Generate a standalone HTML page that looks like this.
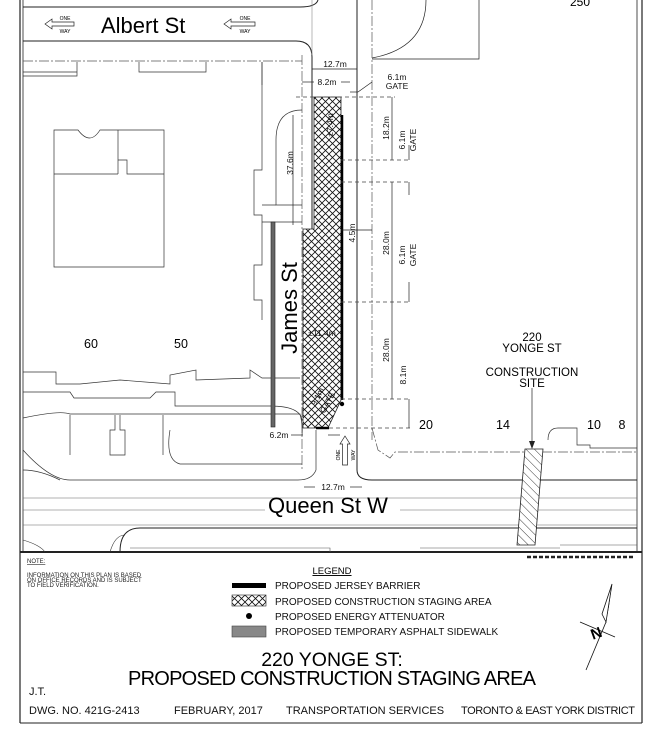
<!DOCTYPE html>
<html><head><meta charset="utf-8"><style>
html,body{margin:0;padding:0;background:#fff;}
svg{display:block;font-family:"Liberation Sans",Arial,sans-serif;}
</style></head><body>
<svg width="661" height="729" viewBox="0 0 661 729" xmlns="http://www.w3.org/2000/svg">
<defs>
<pattern id="xh" width="7" height="7" patternUnits="userSpaceOnUse">
<rect width="7" height="7" fill="#fff"/>
<path d="M0 0L7 7M7 0L0 7" stroke="#111" stroke-width="0.8"/>
</pattern>
<pattern id="dh" width="6" height="6" patternUnits="userSpaceOnUse" patternTransform="rotate(-45)">
<rect width="6" height="6" fill="#fff"/>
<line x1="0" y1="0" x2="0" y2="6" stroke="#222" stroke-width="0.9"/>
</pattern>
</defs>
<rect width="661" height="729" fill="#fff"/>
<!-- frame -->
<g stroke="#222" fill="none">
<line x1="20" y1="0" x2="20" y2="723" stroke-width="1.2"/>
<line x1="23" y1="0" x2="23" y2="552" stroke-width="0.8"/>
<line x1="637" y1="0" x2="637" y2="552" stroke-width="0.8"/>
<line x1="642" y1="0" x2="642" y2="723" stroke-width="1.2"/>
<line x1="20" y1="723" x2="642" y2="723" stroke-width="1"/>
<line x1="20" y1="552" x2="642" y2="552" stroke-width="2"/>
</g>
<!-- Albert St -->
<g stroke="#222" fill="none" stroke-width="1">
<path d="M23 7 H300 Q316 7 318 0"/>
<path d="M23 41 H296 Q312 41 312 57 V230"/>
<line x1="357" y1="0" x2="357" y2="470"/>
<path d="M357 470 Q357 480 372 480 H637"/>
<path d="M312 55 V0" stroke="#888" stroke-width="0.6"/>
<path d="M426 0 Q426 48 372 58" stroke-width="0.7"/>
<path d="M479 0 V59 H372" stroke-width="0.7"/>
<line x1="372" y1="0" x2="372" y2="440" stroke="#555" stroke-dasharray="10 2 2 2" stroke-width="0.7"/>
<line x1="302" y1="55" x2="302" y2="470" stroke="#555" stroke-dasharray="10 2 2 2" stroke-width="0.7"/>
<line x1="23" y1="61" x2="302" y2="61" stroke="#555" stroke-dasharray="10 2 2 2" stroke-width="0.7"/>
</g>
<text x="580" y="6" font-size="12" text-anchor="middle">250</text>
<!-- one way arrows -->
<g font-size="5" text-anchor="middle">
<path d="M45 24 L52 19 V22 H74 V26 H52 V29 Z" fill="#fff" stroke="#222" stroke-width="0.7"/>
<text x="65" y="20">ONE</text><text x="65" y="33">WAY</text>
<path d="M224 24 L231 19 V22 H255 V26 H231 V29 Z" fill="#fff" stroke="#222" stroke-width="0.7"/>
<text x="245" y="20">ONE</text><text x="245" y="33">WAY</text>
</g>
<text x="101" y="33" font-size="22">Albert St</text>
<!-- buildings west -->
<g stroke="#333" fill="none" stroke-width="0.7">
<path d="M23 76 H77 V62 M77 76 V62 M139 62 V72 H206 V62 M262 62 V85 M23 72 H77"/>
<path d="M262 62 V170 H254 V215 H262 V265 H254 V300 H262 V320"/>
<path d="M54 130 H78 Q90 146 100 130 H164 V267 H54 Z"/>
<path d="M118 130 V174 M164 174 H127 V160 H118 V174 M54 174 H118"/>
<path d="M302 110 Q276 110 276 140 V205 H302"/>
<path d="M262 205 H276 M262 222 H302"/>
<path d="M23 372 H56 V384 H80 L120 380 L170 384 V375 L196 370 V380 L250 378 V370 L262 378 H300"/>
<path d="M23 392 H70 L74 398 L150 398 L156 392 H175 V406 H270 Q300 406 302 420"/>
<path d="M23 418 Q60 410 70 414 H300 Q303 425 302 435"/>
<path d="M70 415 V455 M163 415 V455 M115 415 V430 H110 V455 H125 V430 H120 V415"/>
<path d="M23 450 Q50 480 70 480 H298 Q312 480 316 470 V430"/>
<path d="M170 430 Q165 460 180 464 H302"/>
<path d="M23 470 Q40 470 60 480" />
</g>
<!-- east side -->
<g stroke="#333" fill="none" stroke-width="0.7">
<path d="M372 428 L378 450 L390 458 L395 452 H637" stroke-dasharray="10 2 2 2" stroke="#555"/>
<path d="M548 440 Q548 428 558 428 H577 V445 H590 V448 H637"/>
</g>
<!-- grey sidewalk -->
<rect x="271" y="222" width="4" height="205" fill="#666" stroke="#222" stroke-width="0.6"/>
<!-- staging area -->
<path d="M314 97 H341 V400 L328 428 H303 V229 H314 Z" fill="url(#xh)" stroke="#222" stroke-width="0.8"/>
<line x1="342" y1="115" x2="342" y2="400" stroke="#000" stroke-width="2.5"/>
<line x1="316" y1="428" x2="329" y2="428" stroke="#000" stroke-width="2.5"/>
<circle cx="342" cy="404" r="2.2" fill="#000"/>
<!-- dashed dim lines -->
<g stroke="#444" stroke-dasharray="4 3" stroke-width="0.7">
<line x1="296" y1="97" x2="395" y2="97"/>
<line x1="341" y1="160" x2="410" y2="160"/>
<line x1="341" y1="182" x2="410" y2="182"/>
<line x1="341" y1="302" x2="410" y2="302"/>
<line x1="341" y1="399" x2="410" y2="399"/>
<line x1="329" y1="428" x2="410" y2="428"/>
</g>
<g stroke="#222" stroke-width="0.7" fill="#222">
<line x1="392" y1="97" x2="392" y2="160"/>
<line x1="392" y1="182" x2="392" y2="302"/>
<line x1="392" y1="302" x2="392" y2="399"/>
<line x1="409" y1="145" x2="409" y2="160"/>
<line x1="409" y1="182" x2="409" y2="195"/>
<line x1="409" y1="282" x2="409" y2="302"/>
<line x1="409" y1="399" x2="409" y2="428"/>
<line x1="312" y1="69" x2="357" y2="69"/>
<line x1="302" y1="82" x2="314" y2="82"/>
<line x1="341" y1="82" x2="350" y2="82"/>
<line x1="350" y1="92" x2="358" y2="92"/>
<path d="M358 92 L372 82" fill="none"/>
<line x1="293" y1="115" x2="293" y2="225"/>
<line x1="341" y1="230" x2="372" y2="230"/>
<line x1="291" y1="435" x2="303" y2="435"/>
<line x1="328" y1="435" x2="340" y2="435"/>
<line x1="304" y1="487" x2="315" y2="487"/>
<line x1="350" y1="487" x2="362" y2="487"/>
<line x1="532" y1="388" x2="532" y2="447"/>
</g>
<!-- rotated labels -->
<g font-size="8.5" fill="#111">
<text transform="translate(389,128) rotate(-90)" text-anchor="middle">18.2m</text>
<text transform="translate(405,140) rotate(-90)" text-anchor="middle">6.1m</text>
<text transform="translate(416,140) rotate(-90)" text-anchor="middle">GATE</text>
<text transform="translate(389,243) rotate(-90)" text-anchor="middle">28.0m</text>
<text transform="translate(405,255) rotate(-90)" text-anchor="middle">6.1m</text>
<text transform="translate(416,255) rotate(-90)" text-anchor="middle">GATE</text>
<text transform="translate(389,350) rotate(-90)" text-anchor="middle">28.0m</text>
<text transform="translate(406,375) rotate(-90)" text-anchor="middle">8.1m</text>
<text transform="translate(333,125) rotate(-90)" text-anchor="middle">±7.4m</text>
<text transform="translate(293,163) rotate(-90)" text-anchor="middle">37.6m</text>
<text transform="translate(355,233) rotate(-90)" text-anchor="middle">4.5m</text>
<text transform="translate(320,398) rotate(-62)" text-anchor="middle">9.1m</text>
<text transform="translate(330,404) rotate(-62)" text-anchor="middle">GATE</text>
<text x="335" y="67" text-anchor="middle">12.7m</text>
<text x="327" y="85" text-anchor="middle">8.2m</text>
<text x="397" y="80" text-anchor="middle">6.1m</text>
<text x="397" y="89" text-anchor="middle">GATE</text>
<text x="322" y="336" text-anchor="middle">±11.4m</text>
<text x="279" y="438" text-anchor="middle">6.2m</text>
<text x="333" y="490" text-anchor="middle">12.7m</text>
</g>
<text transform="translate(297,308) rotate(-90)" font-size="22" text-anchor="middle">James St</text>
<!-- one way up -->
<path d="M345 436 L350 444 H347.5 V465 H342.5 V444 H340 Z" fill="#fff" stroke="#222" stroke-width="0.7"/>
<g font-size="5" text-anchor="middle">
<text transform="translate(340,455) rotate(-90)">ONE</text>
<text transform="translate(355,455) rotate(-90)">WAY</text>
</g>
<g font-size="12.5" text-anchor="middle">
<text x="91" y="348">60</text><text x="181" y="348">50</text>
<text x="426" y="429">20</text><text x="503" y="429">14</text>
<text x="594" y="429">10</text><text x="622" y="429">8</text>
</g>
<g font-size="11.5" text-anchor="middle">
<text x="532" y="341">220</text><text x="532" y="352">YONGE ST</text>
<text x="532" y="376">CONSTRUCTION</text><text x="532" y="387">SITE</text>
</g>
<path d="M529 441 L532 449 L535 441 Z" fill="#222"/>
<!-- Queen St -->
<g stroke="#666" stroke-width="0.6" fill="none">
<line x1="23" y1="498" x2="637" y2="498"/>
<line x1="23" y1="510" x2="265" y2="510"/>
<line x1="400" y1="510" x2="637" y2="510"/>
<line x1="23" y1="525" x2="637" y2="525"/>
</g>
<path d="M120 552 Q120 528 140 528 H637" stroke="#222" fill="none"/>
<path d="M23 540 Q40 545 45 552 M110 552 Q115 535 125 535" stroke="#333" fill="none" stroke-width="0.6"/>
<path d="M130 548 H330 V552 M420 548 H560 M560 545 H637" stroke="#555" fill="none" stroke-width="0.6"/>
<text x="268" y="513" font-size="22">Queen St W</text>
<path d="M525 449 H543 L535 545 H517 Z" fill="url(#dh)" stroke="#222" stroke-width="0.8"/>
<!-- scale bar -->
<path d="M527 557 H633" stroke="#222" stroke-width="2.5" stroke-dasharray="4 2"/>
<!-- notes -->
<g font-size="6" fill="#222">
<text x="27" y="563" text-decoration="underline">NOTE:</text>
<text x="27" y="577">INFORMATION ON THIS PLAN IS BASED</text>
<text x="27" y="582">ON OFFICE RECORDS AND IS SUBJECT</text>
<text x="27" y="587">TO FIELD VERIFICATION.</text>
</g>
<text x="332" y="574" font-size="9.5" text-anchor="middle" text-decoration="underline">LEGEND</text>
<rect x="232" y="583" width="34" height="5" fill="#000"/>
<rect x="232" y="595" width="34" height="11" fill="url(#xh)" stroke="#222" stroke-width="0.6"/>
<circle cx="249" cy="616" r="3" fill="#000"/>
<rect x="232" y="626" width="34" height="11" fill="#888" stroke="#444" stroke-width="0.6"/>
<g font-size="10" fill="#111">
<text x="275" y="589">PROPOSED JERSEY BARRIER</text>
<text x="275" y="605">PROPOSED CONSTRUCTION STAGING AREA</text>
<text x="275" y="620">PROPOSED ENERGY ATTENUATOR</text>
<text x="275" y="635">PROPOSED TEMPORARY ASPHALT SIDEWALK</text>
</g>
<!-- north arrow -->
<path d="M612 584 L606 622 L602 614 Z" fill="#fff" stroke="#111" stroke-width="0.8"/>
<path d="M612 584 L606 622 L609 606 Z" fill="#111"/>
<line x1="606" y1="622" x2="586" y2="670" stroke="#111" stroke-width="0.8"/>
<line x1="580" y1="622" x2="615" y2="637" stroke="#111" stroke-width="0.8"/>
<text transform="translate(598,638) rotate(-20)" font-size="15" font-weight="bold" text-anchor="middle">N</text>
<text x="332" y="666" font-size="19.5" text-anchor="middle">220 YONGE ST:</text>
<text x="332" y="685" font-size="20" text-anchor="middle" textLength="408">PROPOSED CONSTRUCTION STAGING AREA</text>
<g font-size="11" fill="#111">
<text x="29" y="695">J.T.</text>
<text x="29" y="714">DWG. NO. 421G-2413</text>
<text x="174" y="714">FEBRUARY, 2017</text>
<text x="286" y="714">TRANSPORTATION SERVICES</text>
<text x="461" y="714" textLength="174">TORONTO &amp; EAST YORK DISTRICT</text>
</g>
</svg>
</body></html>
